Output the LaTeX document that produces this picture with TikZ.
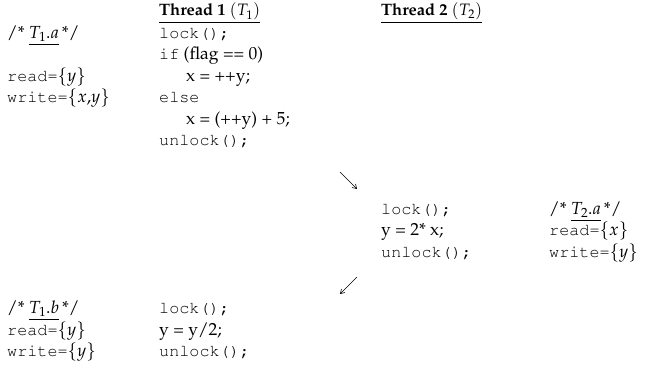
\documentclass[tikz,border=0pt]{standalone}
\usepackage[T1]{fontenc}
\usepackage{mathpazo}
\usepackage{courier}
\usetikzlibrary{arrows.meta}
\newcommand{\cd}[1]{{\fontsize{16.8}{22}\selectfont\ttfamily #1}}
\tikzset{
  txt/.style={inner sep=0pt, anchor=base west, font=\fontsize{17.5}{22}\selectfont},
  head/.style={inner sep=0pt, anchor=base west, font=\fontsize{16.5}{22}\selectfont},
  flow/.style={line width=0.6pt, -{Straight Barb[length=4pt,width=5pt]}}
}
\begin{document}
\begin{tikzpicture}[x=1pt,y=-1pt]
\useasboundingbox (0,0) rectangle (657,377);
% headers
\node[head] (h1) at (159,16) {\underline{\textbf{Thread 1} $(T_1)$}};
\node[head] (h2) at (381,16) {\underline{\textbf{Thread 2} $(T_2)$}};
% T1.a annotations
\node[txt] (ca) at (7,38.5) {/* \underline{$T_1.a$}\,*/};
\node[txt] (ra) at (7,81.5) {\cd{read=}$\{y\}$};
\node[txt] (wa) at (7,103) {\cd{write=}$\{x{,}y\}$};
% T1.a code
\node[txt] (l1) at (159,38.5) {\cd{lock();}};
\node[txt] (l2) at (159,60) {\cd{if} (flag == 0)};
\node[txt] (l3) at (186,81.5) {x = ++y;};
\node[txt] (l4) at (159,103) {\cd{else}};
\node[txt] (l5) at (186,124.5) {x = (++y) + 5;};
\node[txt] (l6) at (159,146) {\cd{unlock();}};
% T2.a code
\node[txt] (m1) at (381,214.5) {\cd{lock();}};
\node[txt] (m2) at (381,236) {y = 2* x;};
\node[txt] (m3) at (381,257.5) {\cd{unlock();}};
\node[txt] (cb) at (549,214.5) {/* \underline{$T_2.a$}\,*/};
\node[txt] (rb) at (549,236) {\cd{read=}$\{x\}$};
\node[txt] (wb) at (549,257.5) {\cd{write=}$\{y\}$};
% T1.b
\node[txt] (cc) at (7,313.5) {/* \underline{$T_1.b$}\,*/};
\node[txt] (rc) at (7,335) {\cd{read=}$\{y\}$};
\node[txt] (wc) at (7,356.5) {\cd{write=}$\{y\}$};
\node[txt] (n1) at (159,313.5) {\cd{lock();}};
\node[txt] (n2) at (159,335) {y = y/2;};
\node[txt] (n3) at (159,356.5) {\cd{unlock();}};
% arrows
\coordinate (a1s) at (340,172);
\coordinate (a1e) at (357,189);
\coordinate (a2s) at (357,277);
\coordinate (a2e) at (340,294);
\draw[flow] (a1s) -- (a1e);
\draw[flow] (a2s) -- (a2e);
\end{tikzpicture}
\end{document}
